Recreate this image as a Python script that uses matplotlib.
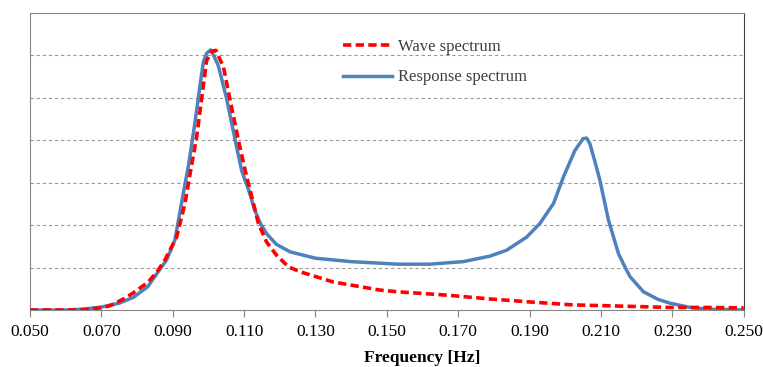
import matplotlib.pyplot as plt
import numpy as np

# Response spectrum
resp_freq = [0.0500, 0.0600, 0.0650, 0.0700, 0.0750, 0.0790, 0.0830, 0.0864, 0.0883,
             0.0906, 0.0920, 0.0934, 0.0944, 0.0962, 0.0977, 0.0986, 0.0995, 0.1006,
             0.1015, 0.1028, 0.1051, 0.1075, 0.1093, 0.1103, 0.1112, 0.1130, 0.1145,
             0.1163, 0.1190, 0.1229, 0.1300, 0.1400, 0.1530, 0.1620, 0.1714, 0.1789,
             0.1836, 0.1892, 0.1929, 0.1967, 0.1995, 0.2027, 0.2050, 0.2060, 0.2069,
             0.2083, 0.2097, 0.2121, 0.2149, 0.2168, 0.2182, 0.2219, 0.2260, 0.2294,
             0.2350, 0.2400, 0.2450, 0.2500]
resp_val = [0.00, 0.00, 0.02, 0.07, 0.16, 0.30, 0.55, 0.96, 1.18,
            1.65, 2.30, 2.95, 3.40, 4.40, 5.33, 5.85, 6.05, 6.13,
            6.00, 5.75, 4.98, 4.00, 3.29, 3.05, 2.85, 2.35, 2.05,
            1.80, 1.55, 1.37, 1.22, 1.14, 1.08, 1.08, 1.14, 1.27,
            1.41, 1.72, 2.04, 2.51, 3.14, 3.76, 4.04, 4.05, 3.92,
            3.50, 3.06, 2.12, 1.33, 1.00, 0.78, 0.43, 0.25, 0.16,
            0.06, 0.02, 0.01, 0.00]

# Wave spectrum
wave_freq = [0.0500, 0.0600, 0.0650, 0.0700, 0.0724, 0.0760, 0.0789, 0.0830, 0.0856,
             0.0878, 0.0911, 0.0934, 0.0948, 0.0967, 0.0981, 0.0995, 0.1010, 0.1021,
             0.1030, 0.1042, 0.1060, 0.1084, 0.1103, 0.1117, 0.1140, 0.1163, 0.1191,
             0.1224, 0.1257, 0.1350, 0.1480, 0.1530, 0.1668, 0.1789, 0.1854, 0.1900,
             0.2022, 0.2162, 0.2294, 0.2400, 0.2500]
wave_val = [0.00, 0.00, 0.01, 0.05, 0.10, 0.25, 0.40, 0.65, 0.90,
            1.18, 1.72, 2.50, 3.18, 4.08, 4.98, 5.88, 6.10, 6.12,
            5.95, 5.73, 4.98, 4.00, 3.29, 2.82, 2.04, 1.60, 1.29,
            1.02, 0.90, 0.66, 0.47, 0.43, 0.35, 0.26, 0.22, 0.19,
            0.12, 0.09, 0.06, 0.06, 0.05]

xticks = [0.05, 0.07, 0.09, 0.11, 0.13, 0.15, 0.17, 0.19, 0.21, 0.23, 0.25]
grid_levels = [1, 2, 3, 4, 5, 6]

plt.rcParams['font.family'] = ['Liberation Serif', 'DejaVu Serif']

fig = plt.figure(figsize=(7.63, 3.67), dpi=100)
ax = fig.add_axes([30 / 763, 1 - 310 / 367, 713.7 / 763, 297 / 367])

for g in grid_levels:
    ax.axhline(g, color='#999999', lw=0.8, ls=(0, (3, 2.5)), zorder=1)

ax.plot(wave_freq, wave_val, color='#FF0000', lw=2.6, ls=(0, (2.3, 1.2)),
        label='Wave spectrum', zorder=3)
ax.plot(resp_freq, resp_val, color='#4F81BD', lw=2.5, solid_joinstyle='round',
        label='Response spectrum', zorder=2)

ax.set_xlim(0.05, 0.25)
ax.set_ylim(0, 7)
ax.set_xticks(xticks)
ax.set_xticklabels(['%.3f' % t for t in xticks], fontsize=12.5)
ax.set_yticks([])
ax.tick_params(axis='x', direction='out', length=5, color='#868686', pad=5)

for side in ['left', 'top', 'bottom']:
    ax.spines[side].set_color('#868686')
ax.spines['right'].set_color('#404040')

ax.set_xlabel('Frequency [Hz]', fontsize=12.5, fontweight='bold')
ax.xaxis.set_label_coords(0.55, -0.135)

leg = ax.legend(loc='upper left', bbox_to_anchor=(0.439, 0.913), frameon=False,
                fontsize=12, handlelength=2.9, handletextpad=0.38,
                labelspacing=0.87, borderaxespad=0, borderpad=0)
for t in leg.get_texts():
    t.set_color('#404040')

fig.savefig('out.png', dpi=100)
